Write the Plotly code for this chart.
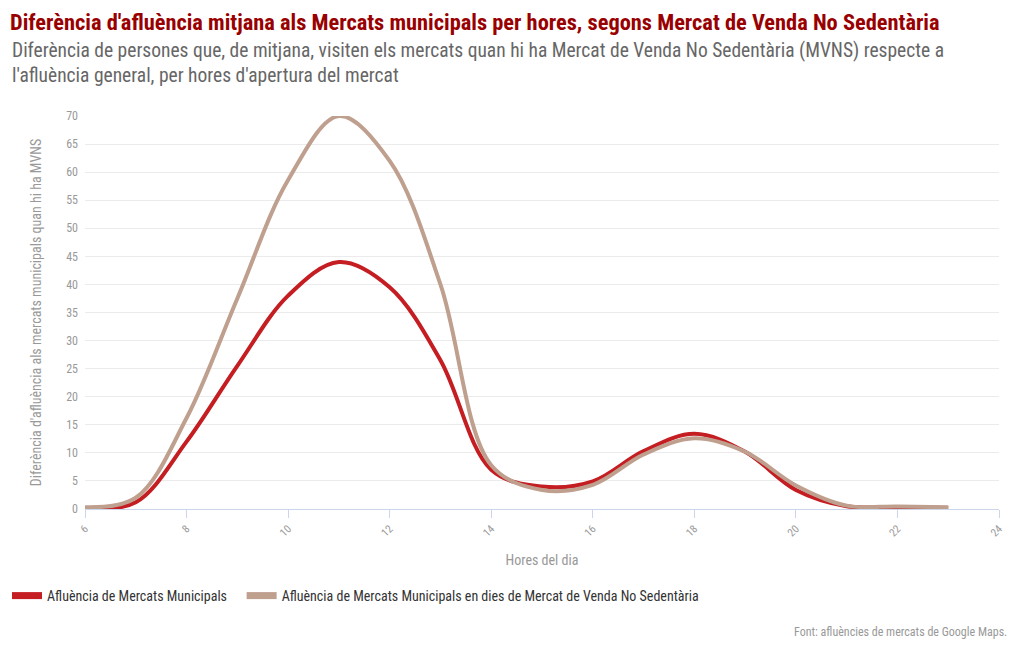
import plotly.graph_objects as go

hores = [6, 7, 8, 9, 10, 11, 12, 13, 14, 15, 16, 17, 18, 19, 20, 21, 22, 23]
mercats = [0.1, 1.2, 12, 25.5, 38, 44, 39.5, 26.5, 7, 4, 4.9, 10.3, 13.4, 10.2, 3.4, 0.5, 0.35, 0.2]
mvns = [0.3, 2, 16.2, 37.5, 58.6, 70, 62, 40, 7.8, 3.4, 4.3, 9.7, 12.6, 10.2, 4.2, 0.6, 0.45, 0.3]

nom_mercats = "Afluència de Mercats Municipals"
nom_mvns = "Afluència de Mercats Municipals en dies de Mercat de Venda No Sedentària"

y_ticks = list(range(0, 75, 5))
x_ticks = list(range(6, 26, 2))

FONT = "Roboto Condensed, Liberation Sans Narrow, Roboto, sans-serif"
RED = "#c41d22"
TAN = "#bf9f8e"

fig = go.Figure()
fig.add_trace(go.Scatter(x=hores, y=mercats, name=nom_mercats, mode="lines", legendgroup="a",
                         showlegend=False,
                         line=dict(color=RED, width=4, shape="spline", smoothing=1)))
fig.add_trace(go.Scatter(x=hores, y=mvns, name=nom_mvns, mode="lines", legendgroup="b",
                         showlegend=False,
                         line=dict(color=TAN, width=4, shape="spline", smoothing=1)))
# legend entries (thicker symbol)
fig.add_trace(go.Scatter(x=[None], y=[None], name=nom_mercats + "&nbsp;&nbsp;&nbsp;", mode="lines",
                         legendgroup="a", line=dict(color=RED, width=7)))
fig.add_trace(go.Scatter(x=[None], y=[None], name=nom_mvns, mode="lines", legendgroup="b",
                         line=dict(color=TAN, width=7)))

fig.update_layout(
    width=1020, height=650,
    paper_bgcolor="white", plot_bgcolor="white",
    font=dict(family=FONT, color="#666666"),
    margin=dict(l=85, r=21, t=116, b=141),
    showlegend=True,
    legend=dict(orientation="h", x=7 / 1020, xref="container", xanchor="left",
                y=(650 - 596) / 650, yref="container", yanchor="middle",
                font=dict(size=14, color="#333333", family=FONT),
                itemwidth=30, tracegroupgap=0),
    title=dict(text="<b>Diferència d'afluència mitjana als Mercats municipals per hores, segons Mercat de Venda No Sedentària</b>",
               x=10 / 1020, xanchor="left", y=1 - 22 / 650, yanchor="middle",
               font=dict(size=22.4, color="#990000", family=FONT)),
    xaxis=dict(range=[6, 24], tickvals=x_ticks, ticktext=[str(t) for t in x_ticks],
               tickangle=-45, tickfont=dict(size=11, color="#999999"),
               showgrid=False, showline=True, linecolor="#ccd6eb", linewidth=1,
               ticks="outside", tickcolor="#ccd6eb", ticklen=8,
               zeroline=False, automargin=False,
               title=dict(text="Hores del dia", font=dict(size=14, color="#999999"), standoff=16)),
    yaxis=dict(range=[0, 70], tickvals=y_ticks, tickfont=dict(size=12, color="#999999"),
               showgrid=True, gridcolor="#ebebeb", gridwidth=1, zeroline=False,
               showline=False, ticks="", ticklabelstandoff=6, automargin=False,
               title=dict(text="Diferència d'afluència als mercats municipals quan hi ha MVNS",
                          font=dict(size=14, color="#999999"), standoff=21)),
)

fig.add_annotation(text="Diferència de persones que, de mitjana, visiten els mercats quan hi ha Mercat de Venda No Sedentària (MVNS) respecte a<br>l'afluència general, per hores d'apertura del mercat",
                   xref="paper", yref="paper", x=-75 / 914, y=1 + (116 - 37) / 393,
                   xanchor="left", yanchor="top", align="left", showarrow=False,
                   font=dict(size=19.5, color="#666666", family=FONT))
fig.add_annotation(text="Font: afluències de mercats de Google Maps.",
                   xref="paper", yref="paper", x=1 + 10 / 914, y=-(632 - 509) / 393,
                   xanchor="right", yanchor="middle", showarrow=False,
                   font=dict(size=12, color="#999999", family=FONT))

for tr in fig.data:
    tr.cliponaxis = False

fig.write_html("out.html", config={"displayModeBar": False},
               post_script="document.body.style.margin='0';document.body.style.overflow='hidden';")
